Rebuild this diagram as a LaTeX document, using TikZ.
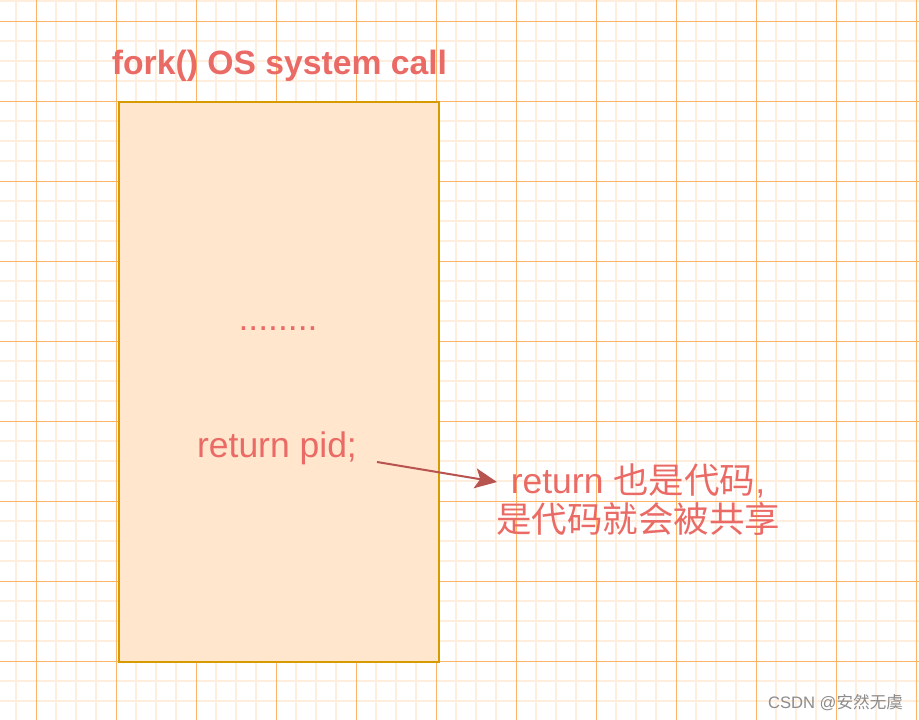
\documentclass[tikz,border=0pt]{standalone}
\usepackage{fontspec}
\setmainfont{Liberation Sans}
\newfontfamily\cjk{Noto Sans CJK SC}
\usetikzlibrary{arrows.meta}
\definecolor{gridminor}{RGB}{255,237,221}
\definecolor{gridmajor}{RGB}{255,179,102}
\definecolor{boxline}{RGB}{215,155,0}
\definecolor{boxfill}{RGB}{255,230,204}
\definecolor{txtred}{RGB}{234,107,102}
\definecolor{arrowred}{RGB}{184,84,80}
\definecolor{wmgray}{RGB}{140,140,140}
\tikzset{
  minorline/.style={draw=gridminor, line width=1.6pt},
  majorline/.style={draw=gridmajor, line width=1pt},
  codebox/.style={draw=boxline, fill=boxfill, line width=2pt, minimum width=320pt, minimum height=560pt, inner sep=0pt},
  redtext/.style={text=txtred, inner sep=0pt, font=\fontsize{35.5}{38}\selectfont},
  titletext/.style={text=txtred, inner sep=0pt, font=\fontsize{33.7}{36}\selectfont\bfseries},
  linkarrow/.style={draw=arrowred, line width=2pt, -{Stealth[length=22pt, width=20pt, inset=5pt]}},
  wmtext/.style={text=wmgray, inner sep=0pt, font=\fontsize{16.6}{18}\selectfont}
}
\begin{document}
\begin{tikzpicture}[x=1pt, y=-1pt]
\useasboundingbox (0,0) rectangle (919,720);
\fill[white] (0,0) rectangle (919,720);
% minor grid
\foreach \gx in {16,56,76,96,136,156,176,216,236,256,296,316,336,376,396,416,456,476,496,536,556,576,616,636,656,696,716,736,776,796,816,856,876,896}
  \draw[minorline] (\gx,0) -- (\gx,720);
\foreach \gy in {1,41,61,81,121,141,161,201,221,241,281,301,321,361,381,401,441,461,481,521,541,561,601,621,641,681,701}
  \draw[minorline] (0,\gy) -- (919,\gy);
% major grid
\foreach \gx in {36.5,116.5,...,916.5}
  \draw[majorline] (\gx,0) -- (\gx,720);
\foreach \gy in {21.5,101.5,...,661.5}
  \draw[majorline] (0,\gy) -- (919,\gy);
% content
\node[titletext, anchor=base] (title) at (279.5,74) {fork() OS system call};
\node[codebox] (box) at (278.5,381.5) {};
\node[redtext, anchor=base] (dots) at (278,330) {........};
\node[redtext, anchor=base] (ret) at (277,457) {return pid;};
\node[redtext, anchor=base] (note1) at (638,493) {return {\cjk 也是代码},};
\node[redtext, anchor=base] (note2) at (638,532) {\cjk 是代码就会被共享};
\coordinate (arrS) at (377,462);
\coordinate (arrE) at (497,482);
\draw[linkarrow] (arrS) -- (arrE);
\node[wmtext, anchor=base] (wm) at (835.5,708) {CSDN @{\cjk 安然无虞}};
\end{tikzpicture}
\end{document}
